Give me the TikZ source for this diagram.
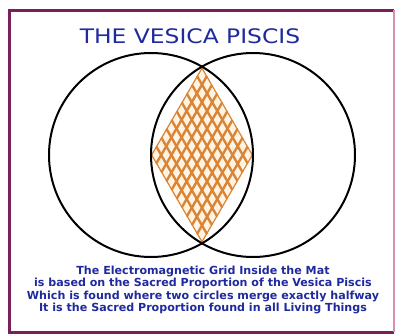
\documentclass[tikz,border=0pt]{standalone}
\usepackage{fontspec}
\setmainfont{DejaVu Sans}
\usetikzlibrary{calc}
\definecolor{frame}{HTML}{7A1F5C}
\definecolor{framepink}{HTML}{D98FB0}
\definecolor{titleblue}{HTML}{1F2A9E}
\definecolor{gridorange}{HTML}{DA8536}
\definecolor{cream}{HTML}{FFF4E4}
\tikzset{
  ring/.style={draw=black, line width=2pt},
  gridline/.style={draw=gridorange, line width=2.4pt},
  titletext/.style={text=titleblue, font=\fontsize{20}{22}\selectfont, inner sep=0pt},
  bodytext/.style={text=titleblue, font=\bfseries\fontsize{11.1}{12.6}\selectfont, align=center, inner sep=0pt},
}
\begin{document}
\begin{tikzpicture}[x=1pt,y=-1pt]
\useasboundingbox (0,0) rectangle (397,335);
\fill[white] (0,0) rectangle (397,335);
% frame
\draw[frame, line width=3pt] (394,10) -- (9,10) -- (9,332) -- (394,332);
\draw[framepink, line width=1.2pt] (394,10) -- (394,332);
% title
\node[titletext] (title) at (190,36) {\scalebox{1.17}[1]{THE VESICA PISCIS}};
% diamond grid
\coordinate (T) at (202,67);
\coordinate (R) at (253,155);
\coordinate (B) at (202,243);
\coordinate (L) at (151,155);
\fill[cream] (T) -- (R) -- (B) -- (L) -- cycle;
\begin{scope}
\clip (T) -- (R) -- (B) -- (L) -- cycle;
\foreach \i in {0,...,10}{
  \draw[gridline] ($(T)!\i/10!(R)$) -- ++(-51,88);
  \draw[gridline] ($(T)!\i/10!(L)$) -- ++(51,88);
}
\end{scope}
% circles
\node[ring, circle, minimum size=204pt, inner sep=0pt] (c1) at (151,155) {};
\node[ring, circle, minimum size=204pt, inner sep=0pt] (c2) at (253,155) {};
% text
\node[bodytext] (body) at (203,290) {The Electromagnetic Grid Inside the Mat\\
is based on the Sacred Proportion of the Vesica Piscis\\
Which is found where two circles merge exactly halfway\\
It is the Sacred Proportion found in all Living Things};
\end{tikzpicture}
\end{document}
